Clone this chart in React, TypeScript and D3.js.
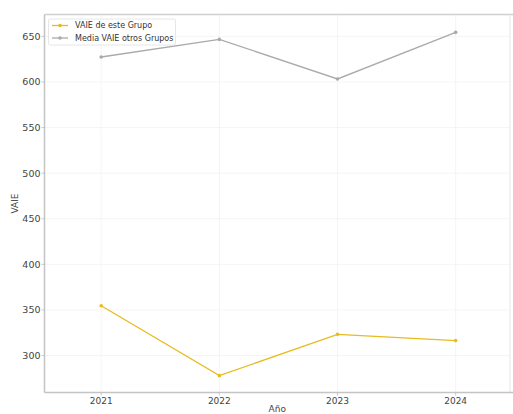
import React from "react";
import * as d3 from "d3";

const years = [2021, 2022, 2023, 2024];
const vaieGrupo = [354.6, 278.0, 323.3, 316.4];
const vaieOtros = [627.4, 646.7, 603.3, 654.4];
const yTicks = [300, 350, 400, 450, 500, 550, 600, 650];
const seriesNames = ["VAIE de este Grupo", "Media VAIE otros Grupos"];
const seriesColors = ["#e8bb1e", "#aaaaaa"];

export default function App() {
  const W = 513, H = 414;
  const left = 44.5, right = 510, top = 14.5, bottom = 392.5;
  const x = d3.scaleLinear().domain([2020.52, 2024.46]).range([left, right]);
  const y = d3.scaleLinear().domain([259.5, 674]).range([bottom, top]);
  const line = d3.line<number>().x((_, i) => x(years[i])).y(d => y(d));
  const series = [vaieGrupo, vaieOtros];
  const font = "DejaVu Sans, sans-serif";
  return (
    <svg width={W} height={H} style={{ position: "absolute", left: 0, top: 0, background: "#fff" }}>
      <rect x={0} y={0} width={W} height={H} fill="#fff" />
      {yTicks.map(t => (
        <line key={"gy" + t} x1={left} x2={right} y1={y(t)} y2={y(t)} stroke="#f2f2f2" strokeWidth={0.8} />
      ))}
      {years.map(t => (
        <line key={"gx" + t} x1={x(t)} x2={x(t)} y1={top} y2={bottom} stroke="#f2f2f2" strokeWidth={0.8} />
      ))}
      <line x1={left} x2={W} y1={top} y2={top} stroke="#d0d0d0" strokeWidth={1.5} />
      <line x1={right} x2={right} y1={top} y2={bottom} stroke="#e6e6e6" strokeWidth={1} />
      <line x1={left} x2={left} y1={top} y2={bottom} stroke="#c4c4c4" strokeWidth={1.5} />
      <line x1={left} x2={W} y1={bottom} y2={bottom} stroke="#c4c4c4" strokeWidth={1.5} />
      {yTicks.map(t => (
        <g key={"ty" + t}>
          <line x1={left - 3} x2={left} y1={y(t)} y2={y(t)} stroke="#bbb" strokeWidth={0.8} />
          <text x={left - 4} y={y(t)} dy="0.35em" textAnchor="end" fontFamily={font} fontSize={9.5} fill="#444">{t}</text>
        </g>
      ))}
      {years.map(t => (
        <g key={"tx" + t}>
          <line x1={x(t)} x2={x(t)} y1={bottom} y2={bottom + 3} stroke="#bbb" strokeWidth={0.8} />
          <text x={x(t)} y={bottom + 11.5} textAnchor="middle" fontFamily={font} fontSize={9} fill="#444">{t}</text>
        </g>
      ))}
      <text x={(left + right) / 2} y={412} textAnchor="middle" fontFamily={font} fontSize={9} fill="#444">Año</text>
      <text transform={`translate(18,${(top + bottom) / 2}) rotate(-90)`} textAnchor="middle" fontFamily={font} fontSize={9} fill="#444">VAIE</text>
      {series.map((s, si) => (
        <g key={"s" + si}>
          <path d={line(s) || ""} fill="none" stroke={seriesColors[si]} strokeWidth={1.3} />
          {s.map((v, i) => (
            <circle key={i} cx={x(years[i])} cy={y(v)} r={1.8} fill={seriesColors[si]} />
          ))}
        </g>
      ))}
      <rect x={48.5} y={19} width={127} height={26} fill="#fff" fillOpacity={0.8} stroke="#e0e0e0" strokeWidth={0.8} rx={2} />
      {seriesNames.map((n, i) => (
        <g key={"lg" + i}>
          <line x1={52} x2={68} y1={25.5 + i * 12.5} y2={25.5 + i * 12.5} stroke={seriesColors[i]} strokeWidth={1.3} />
          <circle cx={60} cy={25.5 + i * 12.5} r={1.8} fill={seriesColors[i]} />
          <text x={75} y={25.5 + i * 12.5} dy="0.35em" fontFamily={font} fontSize={8} fill="#333">{n}</text>
        </g>
      ))}
    </svg>
  );
}
